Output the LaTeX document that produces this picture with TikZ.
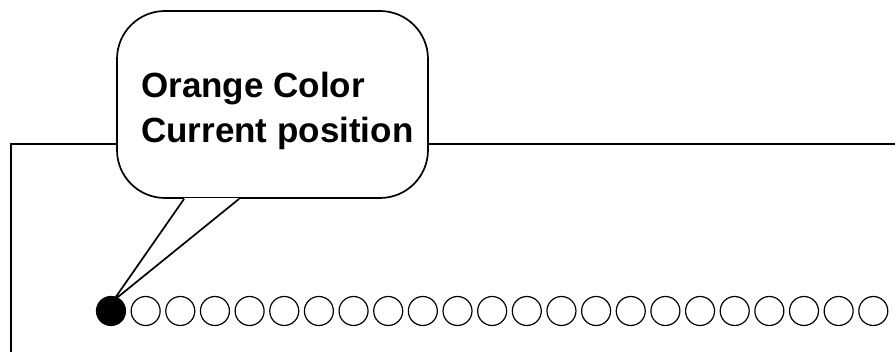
\documentclass[tikz,border=0pt]{standalone}
\usepackage{fontspec}
\setmainfont{Liberation Sans}
\usetikzlibrary{calc}

\begin{document}
\begin{tikzpicture}[x=1pt, y=-1pt]
\useasboundingbox (0,0) rectangle (895,352);

% frame behind the bubble
\draw [line width=2pt] (11,352) -- (11,144) -- (895,144);

\begin{scope}[every node/.style={circle,draw,line width=1.2pt,minimum size=29pt,inner sep=0pt}]
    \node (d0) at (111, 311) [fill=black] {};
    \foreach \i in {1,...,22}
        \node (d\i) at (111+34.65*\i, 311) {};
\end{scope}

\node (bubble) at (272.5, 104.5) [shape=rectangle, rounded corners=48pt, draw, fill=white,
    line width=1.7pt, minimum width=311pt, minimum height=187pt] {};
\node (note) at (141, 71.5) [anchor=north west, inner sep=0pt, align=left,
    font=\bfseries\fontsize{35}{45}\selectfont] {Orange Color\\Current position};

\coordinate (baseL) at ($(bubble.south west)+(68,0)$);
\coordinate (baseR) at ($(bubble.south west)+(123,0)$);
\coordinate (tip) at ($(d0.center)+(2,-10)$);

\begin{scope}[line width=1.7pt]
    \fill [white] (baseL) -- (tip) -- (baseR) -- cycle;
    \draw [white, line width=2.6pt] (baseL) -- (baseR);
    \draw [line join=miter] (baseL) -- (tip) -- (baseR);
\end{scope}
\end{tikzpicture}
\end{document}
